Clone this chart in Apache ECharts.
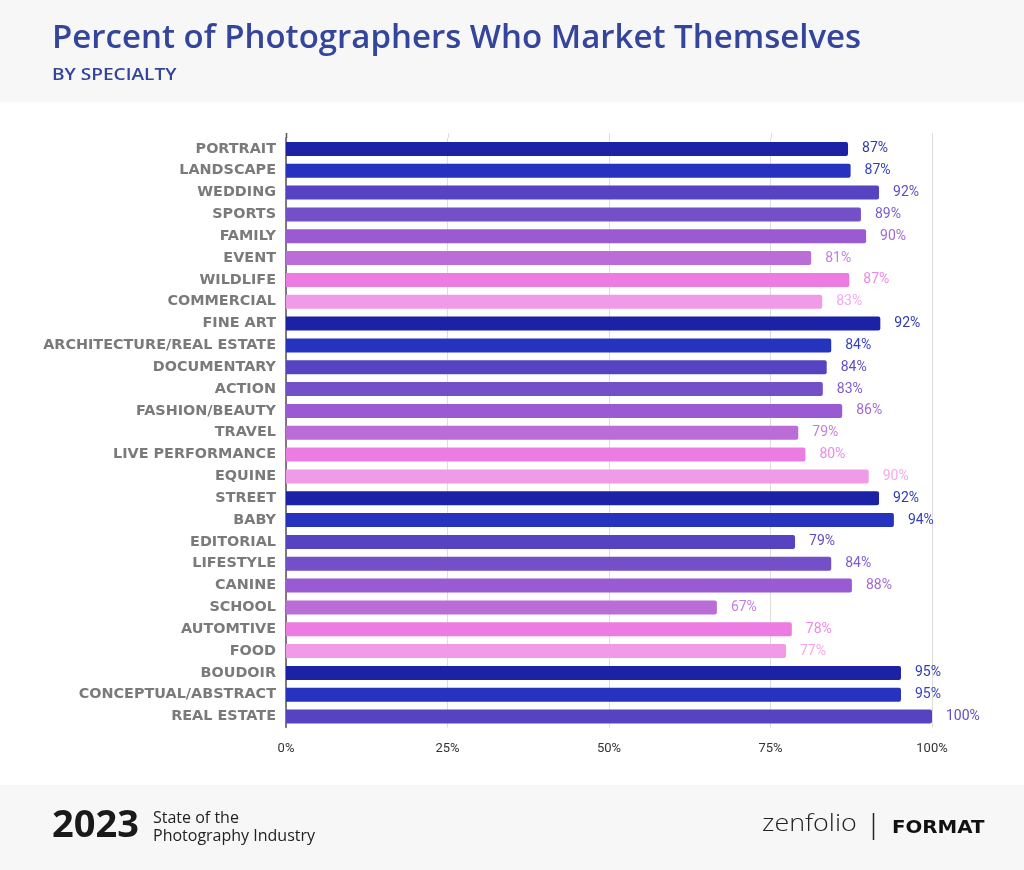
<!DOCTYPE html>
<html>
<head>
<meta charset="utf-8">
<script src="https://cdn.jsdelivr.net/npm/echarts@6/dist/echarts.min.js"></script>
<style>
  html, body { margin: 0; padding: 0; background: #fff; }
  #chart { width: 1024px; height: 870px; }
</style>
</head>
<body>
<div id="chart"></div>
<script>
const specialties = [
  'PORTRAIT', 'LANDSCAPE', 'WEDDING', 'SPORTS', 'FAMILY', 'EVENT', 'WILDLIFE', 'COMMERCIAL',
  'FINE ART', 'ARCHITECTURE/REAL ESTATE', 'DOCUMENTARY', 'ACTION', 'FASHION/BEAUTY', 'TRAVEL',
  'LIVE PERFORMANCE', 'EQUINE', 'STREET', 'BABY', 'EDITORIAL', 'LIFESTYLE', 'CANINE', 'SCHOOL',
  'AUTOMTIVE', 'FOOD', 'BOUDOIR', 'CONCEPTUAL/ABSTRACT', 'REAL ESTATE'
]
const marketShare = [
  87.0, 87.4, 91.8, 89.0, 89.8, 81.3, 87.2, 83.0,
  92.0, 84.4, 83.7, 83.1, 86.1, 79.3,
  80.4, 90.2, 91.8, 94.1, 78.8, 84.4, 87.6, 66.7,
  78.3, 77.4, 95.2, 95.2, 100
]
const xTicks = [0, 25, 50, 75, 100]

// colour cycle of 8, repeats down the list
const barColors = ['#1b22a6', '#2533bf', '#5543c2', '#7350c8', '#9a5bd2', '#bb6dd7', '#ec7ce2', '#f09ae8']
const labelColors = ['#2f39b2', '#3441c2', '#5e4dc8', '#7d5bce', '#a368d8', '#c37fde', '#f088e6', '#f4a8ec']

const chart = echarts.init(document.getElementById('chart'))

const decor = [
  { type: 'rect', z: -10, shape: { x: 0, y: 0, width: 1024, height: 102 }, style: { fill: '#f7f7f8' } },
  { type: 'rect', z: -10, shape: { x: 0, y: 785, width: 1024, height: 85 }, style: { fill: '#f7f7f8' } },
  { type: 'text', x: 52, y: 67, scaleX: 1.12, style: { text: 'BY SPECIALTY', font: '600 17px "Open Sans"', fill: '#34459c' } },
  { type: 'text', x: 52, y: 807, style: { text: '2023', font: 'bold 38px "Open Sans"', fill: '#1a1a1a' } },
  { type: 'text', x: 153, y: 809, style: { text: 'State of the\nPhotography Industry', font: '16px "Open Sans"', lineHeight: 18, fill: '#222222' } },
  { type: 'text', x: 762, y: 812, scaleX: 1.12, style: { text: 'zenfolio', font: '300 24px "Open Sans"', fill: '#222222' } },
  { type: 'line', shape: { x1: 873.5, y1: 813, x2: 873.5, y2: 840 }, style: { stroke: '#222222', lineWidth: 1.5 } },
  { type: 'text', x: 892, y: 819, scaleX: 1.1, style: { text: 'FORMAT', font: '900 18px "DejaVu Sans"', fill: '#111111' } },
]

chart.setOption({
  animation: false,
  backgroundColor: '#ffffff',
  title: {
    text: 'Percent of Photographers Who Market Themselves',
    left: 47,
    top: 17,
    textStyle: { fontFamily: 'Open Sans', fontSize: 33, fontWeight: 600, color: '#34459c' },
  },
  graphic: decor,
  grid: { left: 286, right: 92, top: 138, bottom: 142.5 },
  xAxis: {
    type: 'value',
    min: 0,
    max: 100,
    interval: 25,
    axisLine: { show: false },
    axisTick: { show: false },
    axisLabel: {
      formatter: v => xTicks.includes(v) ? v + '%' : '',
      fontFamily: 'Roboto', fontSize: 13, color: '#333333', margin: 15,
    },
    splitLine: { lineStyle: { color: '#dddddd', width: 1 } },
  },
  yAxis: {
    type: 'category',
    inverse: true,
    data: specialties,
    axisLine: { lineStyle: { color: '#555555', width: 1.5 } },
    axisTick: { show: false },
    axisLabel: {
      fontFamily: 'DejaVu Sans', fontWeight: 'bold', fontSize: 14.4, color: '#7a7a7a', margin: 10,
    },
  },
  series: [{
    type: 'bar',
    barWidth: 14,
    data: marketShare.map((v, i) => ({
      value: v,
      itemStyle: { color: barColors[i % 8], borderRadius: [0, 2, 2, 0] },
      label: { color: labelColors[i % 8] },
    })),
    label: {
      show: true,
      position: 'right',
      distance: 14,
      fontFamily: 'Roboto',
      fontSize: 14,
      formatter: p => Math.round(p.value) + '%',
    },
  }],
})

// grid and axis lines run a few px above the first band, as in the source
const gridTop = 138
const stubs = xTicks.map(t => {
  const x = Math.round(chart.convertToPixel({ xAxisIndex: 0 }, t)) + 0.5
  return {
    type: 'line',
    shape: { x1: x, y1: gridTop - 5, x2: x, y2: gridTop },
    style: { stroke: t === 0 ? '#555555' : '#dddddd', lineWidth: t === 0 ? 1.5 : 1 },
  }
})
chart.setOption({ graphic: decor.concat(stubs) })
</script>
</body>
</html>
